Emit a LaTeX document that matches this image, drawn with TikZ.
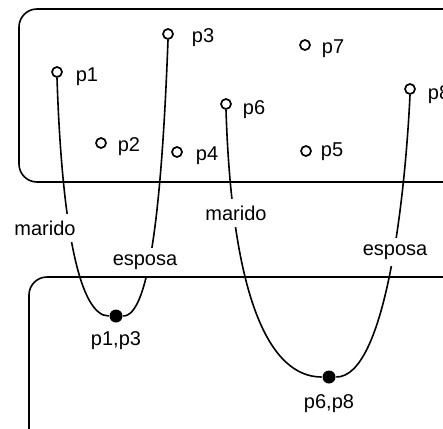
\documentclass[tikz,border=0pt]{standalone}
\usepackage{fontspec}
\setmainfont{Liberation Sans}
\begin{document}
\begin{tikzpicture}[
   x=1pt,
   y=-1pt,
   line width=1.6pt,
   pt/.style={
      draw,
      circle,
      fill=white,
      inner sep=0pt,
      minimum size=10pt,
      line width=1.7pt
   },
   dot/.style={
      circle,
      fill=black,
      inner sep=0pt,
      minimum size=13pt
   },
   txt/.style={
      font=\fontsize{20}{22}\selectfont,
      inner sep=1pt
   },
   rel/.style={
      txt,
      fill=white,
      inner xsep=2pt,
      inner ysep=7pt
   }
]

   \useasboundingbox (0,0) rectangle (443,428);
   \clip (0,0) rectangle (443,428);

   % Sets
   \draw[rounded corners=18] (19,9) rectangle (480,182);
   \draw[rounded corners=18] (29,277) rectangle (480,470);

   % Points of the first set
   \node[pt] (p1) at (57,72) {};
   \node[pt] (p2) at (101,143) {};
   \node[pt] (p3) at (168,34) {};
   \node[pt] (p4) at (177,152) {};
   \node[pt] (p5) at (306,151) {};
   \node[pt] (p6) at (226,104) {};
   \node[pt] (p7) at (305,45) {};
   \node[pt] (p8) at (410,89) {};

   \node[txt] (p1l) at (87,77) {p1};
   \node[txt] (p2l) at (129,147) {p2};
   \node[txt] (p3l) at (203,38) {p3};
   \node[txt] (p4l) at (207,156) {p4};
   \node[txt] (p5l) at (332,152) {p5};
   \node[txt] (p6l) at (254,110) {p6};
   \node[txt] (p7l) at (333,49) {p7};
   \node[txt] (p8l) at (439,95) {p8};

   % Couples
   \node[dot] (c13) at (116,316) {};
   \node[dot] (c68) at (329,377) {};

   \node[txt] (c13l) at (116,341) {p1,p3};
   \node[txt] (c68l) at (329,404) {p6,p8};

   % Projections
   \draw (p1.south) .. controls (62,230) and (80,316) .. (c13);
   \draw (c13) .. controls (150,316) and (162,200) .. (p3.south);
   \draw (p6.south) .. controls (232,300) and (270,377) .. (c68);
   \draw (c68) .. controls (385,377) and (405,200) .. (p8.south);

   \node[rel] (m1) at (45,228) {marido};
   \node[rel] (e1) at (145,262) {esposa};
   \node[rel] (m2) at (236,213) {marido};
   \node[rel] (e2) at (395,252) {esposa};

\end{tikzpicture}
\end{document}
